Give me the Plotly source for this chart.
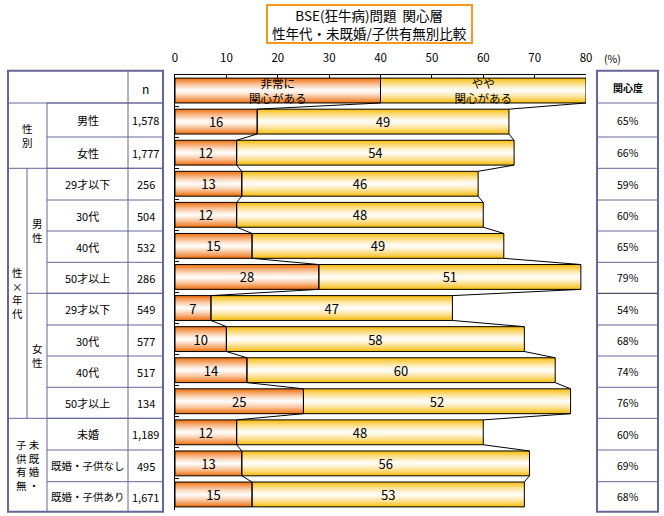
import plotly.graph_objects as go

# ---------------- data ----------------
row_labels = ["男性", "女性", "29才以下", "30代", "40代", "50才以上",
              "29才以下", "30代", "40代", "50才以上",
              "未婚", "既婚・子供なし", "既婚・子供あり"]
very_interested = [16, 12, 13, 12, 15, 28, 7, 10, 14, 25, 12, 13, 15]
somewhat_interested = [49, 54, 46, 48, 49, 51, 47, 58, 60, 52, 48, 56, 53]
n_values = ["1,578", "1,777", "256", "504", "532", "286", "549", "577", "517",
            "134", "1,189", "495", "1,671"]
interest_rate = ["65%", "66%", "59%", "60%", "65%", "79%", "54%", "68%", "74%",
                 "76%", "60%", "69%", "68%"]
legend_labels = ["非常に<br>関心がある", "やや<br>関心がある"]
legend_values = [40, 40]
x_ticks = [0, 10, 20, 30, 40, 50, 60, 70, 80]
title_lines = ["BSE(狂牛病)問題  関心層", "性年代・未既婚/子供有無別比較"]

# ---------------- layout constants ----------------
W, H = 664, 516
L, R, T, B = 175, 586, 75, 510
FONT = "Noto Sans CJK JP"
BW = 0.8
TABLE_C = "#666699"

ypos = list(range(len(row_labels) + 1))
v1 = [legend_values[0]] + very_interested
v2 = [legend_values[1]] + somewhat_interested
end1 = v1
end2 = [a + b for a, b in zip(v1, v2)]
text1 = [legend_labels[0]] + [str(v) for v in very_interested]
text2 = [legend_labels[1]] + [str(v) for v in somewhat_interested]
tsize = [11.5] + [13] * len(very_interested)


def hex2rgb(h):
    h = h.lstrip("#")
    return tuple(int(h[i:i + 2], 16) for i in (0, 2, 4))


def mix(c1, c2, t):
    a, b = hex2rgb(c1), hex2rgb(c2)
    return "rgb(%d,%d,%d)" % tuple(round(a[i] + (b[i] - a[i]) * t) for i in range(3))


fig = go.Figure()

NL = 12
segments = [
    (v1, [0] * len(v1), "#F07414"),
    (v2, v1, "#F8BE14"),
]
for vals, base, edge in segments:
    for k in range(NL):
        f = 1 - k / NL
        col = mix("#FFFFFF", edge, f ** 1.3)
        fig.add_trace(go.Bar(
            y=ypos, x=vals, base=base, orientation="h", width=BW * f,
            marker=dict(color=col, line=dict(width=0)),
            hoverinfo="skip", showlegend=False))

# outline + text
for vals, base, txt in [(v1, [0] * len(v1), text1), (v2, v1, text2)]:
    fig.add_trace(go.Bar(
        y=ypos, x=vals, base=base, orientation="h", width=BW,
        marker=dict(color="rgba(0,0,0,0)", line=dict(color="black", width=1)),
        text=txt, textposition="inside", insidetextanchor="middle",
        constraintext="none", textangle=0,
        textfont=dict(family=FONT, size=tsize, color="black"),
        hoverinfo="skip", showlegend=False))

# series lines
for ends in (end1, end2):
    xs, ys = [], []
    for i in range(len(ends) - 1):
        xs += [ends[i], ends[i + 1], None]
        ys += [i + BW / 2, i + 1 - BW / 2, None]
    fig.add_trace(go.Scatter(x=xs, y=ys, mode="lines",
                             line=dict(color="black", width=1),
                             hoverinfo="skip", showlegend=False))


def px(x):
    return (x - L) / (R - L)


def py(y):
    return (B - y) / (B - T)


shapes = []
annotations = []


def hline(x0, x1, y, color=TABLE_C, w=1):
    shapes.append(dict(type="line", xref="paper", yref="paper",
                       x0=px(x0), x1=px(x1), y0=py(y), y1=py(y),
                       line=dict(color=color, width=w)))


def vline(x, y0, y1, color=TABLE_C, w=1):
    shapes.append(dict(type="line", xref="paper", yref="paper",
                       x0=px(x), x1=px(x), y0=py(y0), y1=py(y1),
                       line=dict(color=color, width=w)))


def text(x, y, s, size=11, bold=False, color="black"):
    annotations.append(dict(xref="paper", yref="paper", x=px(x), y=py(y),
                            text=("<b>%s</b>" % s) if bold else s,
                            showarrow=False, xanchor="center", yanchor="middle",
                            font=dict(family=FONT, size=size, color=color)))


rb = [70.7, 103, 137, 168.3, 200, 231, 262.3, 293.3, 325, 356, 387.3,
      418.3, 450, 481.7, 511.7]
top, bot = rb[0], rb[-1]

# left table
for y in rb[1:-1]:
    hline(47, 163, y)
for y in (103, 168.3, 418.3):
    hline(8, 163, y)
hline(27, 163, 293.3)
vline(128, top, bot)
vline(47, 103, bot)
vline(27, 168.3, 418.3)
shapes.append(dict(type="rect", xref="paper", yref="paper",
                   x0=px(8), x1=px(163), y0=py(top), y1=py(bot),
                   line=dict(color=TABLE_C, width=2)))

# right table
for y in rb[1:-1]:
    hline(597, 658, y, color="#222244" if y == 293.3 else TABLE_C)
shapes.append(dict(type="rect", xref="paper", yref="paper",
                   x0=px(597), x1=px(658), y0=py(top), y1=py(bot),
                   line=dict(color=TABLE_C, width=2)))

# table texts
text(145.5, 88, "n", 12)
text(627.5, 87, "関心度", 10, bold=True)
for i, lab in enumerate(row_labels):
    cy = (rb[i + 1] + rb[i + 2]) / 2
    text(87.5, cy, lab, 10.5 if len(lab) > 5 else 11)
    text(145.5, cy, n_values[i], 11)
    text(627.5, cy, interest_rate[i], 10.5)

text(27.5, 135.6, "性<br>別", 10.5)
text(17.5, 293.3, "性<br>×<br>年<br>代", 10.5)
text(37, 230.8, "男<br>性", 10.5)
text(37, 355.8, "女<br>性", 10.5)
text(27.5, 465, "子 未<br>供 既<br>有 婚<br>無 ・", 10.5)

# title box
shapes.append(dict(type="rect", xref="paper", yref="paper",
                   x0=px(267), x1=px(472), y0=py(5), y1=py(43),
                   line=dict(color="#F39A1E", width=2), fillcolor="white"))
text(369.5, 24, "<br>".join(title_lines), 13.5)
text(612, 58, "(%)", 10.5)

fig.update_layout(
    width=W, height=H,
    margin=dict(l=L, r=W - R, t=T, b=H - B, pad=0),
    paper_bgcolor="white", plot_bgcolor="white",
    barmode="overlay",
    shapes=shapes, annotations=annotations,
    showlegend=False,
    font=dict(family=FONT, color="black"),
    xaxis=dict(range=[0, 80], side="top", tickvals=x_ticks,
               ticks="inside", ticklen=3, tickcolor="black",
               showline=True, linecolor="black", linewidth=1,
               showgrid=False, zeroline=False, ticklabelstandoff=7,
               tickfont=dict(family=FONT, size=11.5, color="black"),
               fixedrange=True),
    yaxis=dict(range=[len(ypos) - 0.5, -0.5],
               tickvals=[i + 0.5 for i in range(-1, len(ypos))],
               ticks="inside", ticklen=4, tickcolor="black",
               showline=True, linecolor="black", linewidth=1,
               showticklabels=False, showgrid=False, zeroline=False,
               fixedrange=True),
)

fig.write_html("out.html", config={"displayModeBar": False},
               post_script="document.body.style.margin='0';document.body.style.overflow='hidden';")
